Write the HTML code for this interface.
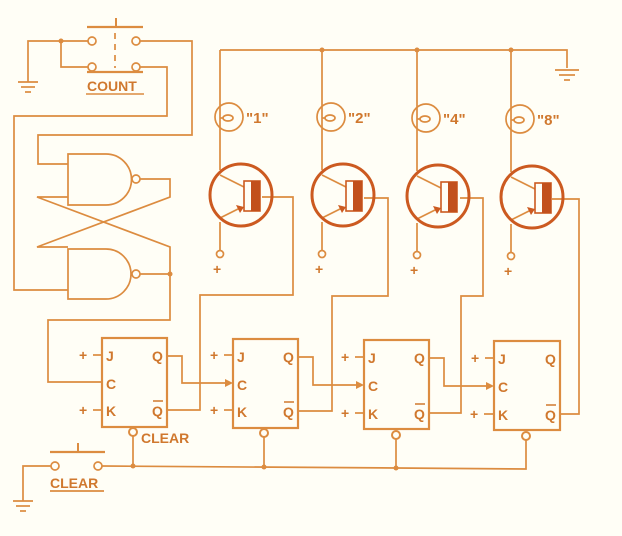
<!DOCTYPE html>
<html><head><meta charset="utf-8"><style>
html,body{margin:0;padding:0;background:#fffef6;}
svg{display:block;}
text{font-family:"Liberation Sans",sans-serif;font-weight:bold;fill:#d0782e;}
</style></head><body>
<svg width="622" height="536" viewBox="0 0 622 536" xmlns="http://www.w3.org/2000/svg">
<rect width="622" height="536" fill="#fffef6"/>
<g fill="none" stroke="#dc8c40" stroke-width="1.7">
<!-- count switch -->
<line x1="87" y1="27" x2="143" y2="27" stroke-width="2.2"/>
<line x1="116" y1="18" x2="116" y2="27" stroke-width="2"/>
<line x1="115" y1="33" x2="115" y2="68" stroke-dasharray="6,5"/>
<line x1="87" y1="72" x2="143" y2="72" stroke-width="2.2"/>
<circle cx="92" cy="41" r="4"/><circle cx="136" cy="41" r="4"/>
<circle cx="92" cy="67" r="4"/><circle cx="136" cy="67" r="4"/>
<line x1="86" y1="94" x2="144" y2="94" stroke-width="1.6"/>
<polyline points="88,41 28,41 28,82"/>
<polyline points="61,41 61,67 88,67"/>
<line x1="18" y1="82" x2="38" y2="82"/><line x1="21" y1="87" x2="35" y2="87"/><line x1="25" y1="92" x2="31" y2="92"/>
<polyline points="140,41 192,41 192,135 38,135 38,164 68,164"/>
<polyline points="140,67 167,67 167,116 14,116 14,290 68,290"/>
<!-- gates -->
<path d="M68,154 H106 A25,25 0 0 1 106,205 H68 Z"/>
<circle cx="136" cy="179" r="4"/>
<path d="M68,249 H106 A25,25 0 0 1 106,299 H68 Z"/>
<circle cx="136" cy="274" r="4"/>
<polyline points="140,179 170,179 170,197 37,247 68,247"/>
<polyline points="68,197 37,197 170,247 170,320 48,320 48,382 102,382"/>
<line x1="140" y1="274" x2="170" y2="274"/>
<!-- flip flops -->
<rect x="102" y="338" width="65" height="89" stroke-width="2.2"/>
<rect x="233" y="339" width="65" height="89" stroke-width="2.2"/>
<rect x="364" y="340" width="65" height="89" stroke-width="2.2"/>
<rect x="494" y="341" width="66" height="89" stroke-width="2.2"/>
<line x1="93" y1="355" x2="102" y2="355"/><line x1="93" y1="410" x2="102" y2="410"/>
<line x1="224" y1="355" x2="233" y2="355"/><line x1="224" y1="410" x2="233" y2="410"/>
<line x1="355" y1="357" x2="364" y2="357"/><line x1="355" y1="413" x2="364" y2="413"/>
<line x1="485" y1="358" x2="494" y2="358"/><line x1="484" y1="414" x2="494" y2="414"/>
<circle cx="133" cy="432" r="4" stroke-width="2"/>
<circle cx="264" cy="433" r="4" stroke-width="2"/>
<circle cx="396" cy="435" r="4" stroke-width="2"/>
<circle cx="526" cy="436" r="4" stroke-width="2"/>
<line x1="133" y1="436" x2="133" y2="466"/>
<line x1="264" y1="437" x2="264" y2="467"/>
<line x1="396" y1="439" x2="396" y2="468"/>
<polyline points="102,466 396,468 526,469 526,440"/>
<!-- clear switch -->
<line x1="50" y1="452" x2="105" y2="452" stroke-width="2.2"/>
<line x1="78" y1="443" x2="78" y2="452" stroke-width="2"/>
<circle cx="55" cy="466" r="4"/><circle cx="98" cy="466" r="4"/>
<polyline points="51,466 23,466 23,501"/>
<line x1="13" y1="501" x2="33" y2="501"/><line x1="16" y1="506" x2="30" y2="506"/><line x1="20" y1="511" x2="26" y2="511"/>
<line x1="50" y1="491" x2="104" y2="491"/>
<!-- Q to C chains -->
<polyline points="167,356 182,356 182,383 226,383"/>
<polyline points="298,357 313,357 313,385 357,385"/>
<polyline points="429,358 444,358 444,386 487,386"/>
<!-- Qbar to bases -->
<polyline points="167,410 200,410 200,295 293,295 293,197 262,197"/>
<polyline points="298,411 332,411 332,296 388,296 388,198 364,198"/>
<polyline points="429,413 461,413 461,296 483,296 483,198 460,198"/>
<polyline points="560,414 579,414 579,199 552,199"/>
<!-- top rail -->
<polyline points="220,50 567,50 567,68"/>
<line x1="555" y1="70" x2="579" y2="70"/><line x1="559" y1="75" x2="575" y2="75"/><line x1="564" y1="80" x2="570" y2="80"/>
</g>
<g fill="#dc8c40">
<circle cx="61" cy="41" r="2.5"/><circle cx="170" cy="274" r="2.5"/>
<circle cx="133" cy="466" r="2.5"/><circle cx="264" cy="467" r="2.5"/><circle cx="396" cy="468" r="2.5"/>
<circle cx="322" cy="50" r="2.5"/><circle cx="417" cy="50" r="2.5"/><circle cx="511" cy="50" r="2.5"/>
<polygon points="225,379 233,383 225,387"/>
<polygon points="356,381 364,385 356,389"/>
<polygon points="486,382 494,386 486,390"/>
</g>
<!-- transistors and lamps -->
<g id="t1">
<g fill="none" stroke="#dc8c40" stroke-width="1.7">
<polyline points="220,50 220,170"/>
<circle cx="229" cy="117" r="14"/>
<ellipse cx="228" cy="118" rx="5" ry="3"/>
<line x1="220" y1="118" x2="223" y2="118"/>
<line x1="220" y1="222" x2="220" y2="250"/>
<circle cx="220" cy="254" r="3.5"/>
<line x1="220" y1="175" x2="244" y2="187"/>
<line x1="220" y1="218" x2="240" y2="208"/>
</g>
<circle cx="241" cy="195" r="31" fill="none" stroke="#cc5a20" stroke-width="3"/>
<rect x="244" y="181" width="16" height="30" fill="#fffef6" stroke="#cc5a20" stroke-width="1.6"/>
<rect x="251" y="181" width="9" height="30" fill="#c2501c"/>
<polygon points="236,205 244,207 240,213" fill="#cc5a20"/>
<text x="213" y="274" font-size="14">+</text>
</g>
<use href="#t1" x="102" y="0"/>
<use href="#t1" x="197" y="1"/>
<use href="#t1" x="291" y="2"/>
<text x="246" y="123" font-size="15" font-weight="normal">"1"</text>
<text x="348" y="123" font-size="15" font-weight="normal">"2"</text>
<text x="443" y="124" font-size="15" font-weight="normal">"4"</text>
<text x="537" y="125" font-size="15" font-weight="normal">"8"</text>
<!-- labels -->
<text x="87" y="91" font-size="14">COUNT</text>
<text x="50" y="488" font-size="14">CLEAR</text>
<text x="141" y="443" font-size="14">CLEAR</text>
<g font-size="14">
<text x="79" y="360">+</text><text x="79" y="415">+</text>
<text x="210" y="360">+</text><text x="210" y="415">+</text>
<text x="341" y="362">+</text><text x="341" y="418">+</text>
<text x="471" y="363">+</text><text x="470" y="419">+</text>
<text x="106" y="361">J</text><text x="106" y="389">C</text><text x="106" y="416">K</text>
<text x="152" y="361">Q</text><text x="152" y="416">Q</text>
<text x="237" y="362">J</text><text x="237" y="390">C</text><text x="237" y="417">K</text>
<text x="283" y="362">Q</text><text x="283" y="417">Q</text>
<text x="368" y="363">J</text><text x="368" y="391">C</text><text x="368" y="419">K</text>
<text x="414" y="363">Q</text><text x="414" y="419">Q</text>
<text x="498" y="364">J</text><text x="498" y="392">C</text><text x="498" y="420">K</text>
<text x="545" y="364">Q</text><text x="545" y="420">Q</text>
</g>
<g stroke="#d0782e" stroke-width="1.5">
<line x1="153" y1="401" x2="163" y2="401"/><line x1="284" y1="402" x2="294" y2="402"/>
<line x1="415" y1="404" x2="425" y2="404"/><line x1="546" y1="405" x2="556" y2="405"/>
</g>
</svg>
</body></html>
